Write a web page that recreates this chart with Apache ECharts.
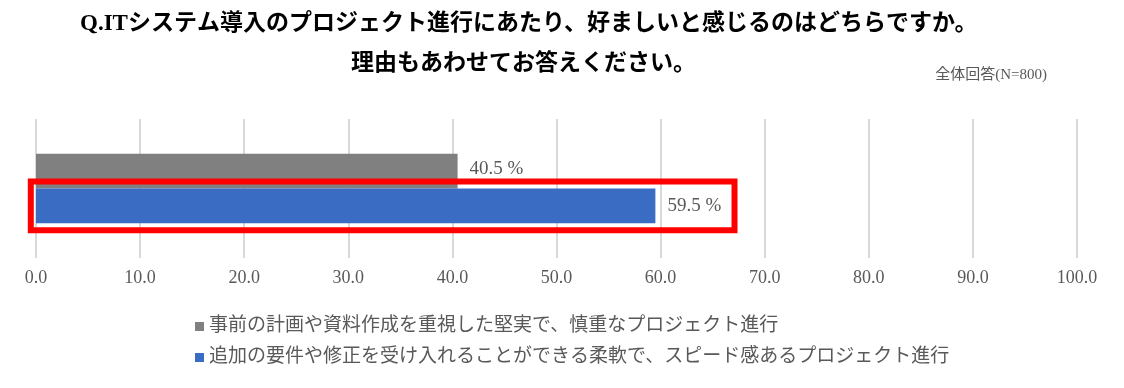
<!DOCTYPE html>
<html><head><meta charset="utf-8">
<script src="https://cdn.jsdelivr.net/npm/echarts@6/dist/echarts.min.js"></script>
<style>html,body{margin:0;padding:0;background:#fff}#c{width:1124px;height:388px}</style>
</head><body><div id="c"></div>
<script>
const titleLines = ['Q.ITシステム導入のプロジェクト進行にあたり、好ましいと感じるのはどちらですか。', '理由もあわせてお答えください。'];
const sampleNote = '全体回答(N=800)';
const categories = [''];
const seriesNames = ['事前の計画や資料作成を重視した堅実で、慎重なプロジェクト進行', '追加の要件や修正を受け入れることができる柔軟で、スピード感あるプロジェクト進行'];
const steadyValues = [40.5];
const flexibleValues = [59.5];
const xTicks = [0, 10, 20, 30, 40, 50, 60, 70, 80, 90, 100];

const FONT = "'Liberation Serif', 'Noto Sans CJK JP', serif";
const TXT = '#595959';
const chart = echarts.init(document.getElementById('c'), null, {renderer: 'canvas'});
const option = {
  backgroundColor: '#fff',
  animation: false,
  title: [
    {text: titleLines[0], left: 75, top: 8, textStyle: {fontFamily: FONT, fontSize: 23, fontWeight: 'bold', color: '#000'}},
    {text: titleLines[1], left: 346, top: 48, textStyle: {fontFamily: FONT, fontSize: 23, fontWeight: 'bold', color: '#000'}},
    {text: sampleNote, right: 72, top: 63, textStyle: {fontFamily: FONT, fontSize: 15, fontWeight: 'normal', color: TXT}}
  ],
  legend: {
    orient: 'vertical', left: 190, top: 312, itemGap: 12,
    icon: 'rect', itemWidth: 9, itemHeight: 9,
    textStyle: {fontFamily: FONT, fontSize: 19, color: TXT},
    data: seriesNames
  },
  grid: {left: 36, right: 47, top: 119, bottom: 130, containLabel: false},
  xAxis: {
    type: 'value', min: xTicks[0], max: xTicks[xTicks.length - 1], interval: 10,
    axisLine: {show: false}, axisTick: {show: false},
    splitLine: {show: true, lineStyle: {color: '#d9d9d9', width: 2}},
    axisLabel: {fontFamily: FONT, fontSize: 18, color: TXT, margin: 11, formatter: v => v.toFixed(1)}
  },
  yAxis: {
    type: 'category', data: categories, inverse: true,
    axisLine: {show: false}, axisTick: {show: false}, axisLabel: {show: false}, splitLine: {show: false}
  },
  series: [
    {name: seriesNames[0], type: 'bar', data: steadyValues, barGap: '0%', barCategoryGap: '50%',
     itemStyle: {color: '#808080'},
     label: {show: true, position: 'right', distance: 12, offset: [0, -2], formatter: '{c} %', fontFamily: FONT, fontSize: 19, color: TXT}},
    {name: seriesNames[1], type: 'bar', data: flexibleValues, barGap: '0%', barCategoryGap: '50%',
     itemStyle: {color: '#3B6CC4'},
     label: {show: true, position: 'right', distance: 12, formatter: '{c} %', fontFamily: FONT, fontSize: 19, color: TXT}}
  ]
};
chart.setOption(option);

// red highlight box around the flexible series bar
const highlightFrom = -0.5, highlightTo = 67.1;
const x0 = chart.convertToPixel({xAxisIndex: 0}, highlightFrom);
const x1 = chart.convertToPixel({xAxisIndex: 0}, highlightTo);
const layout = chart.getModel().getSeriesByIndex(1).getData().getItemLayout(0);
const pad = 7;
chart.setOption({
  graphic: [{type: 'rect', z: 100,
    shape: {x: x0, y: layout.y - pad, width: x1 - x0, height: layout.height + pad * 2},
    style: {fill: 'none', stroke: '#FF0000', lineWidth: 6}}]
});
</script></body></html>
